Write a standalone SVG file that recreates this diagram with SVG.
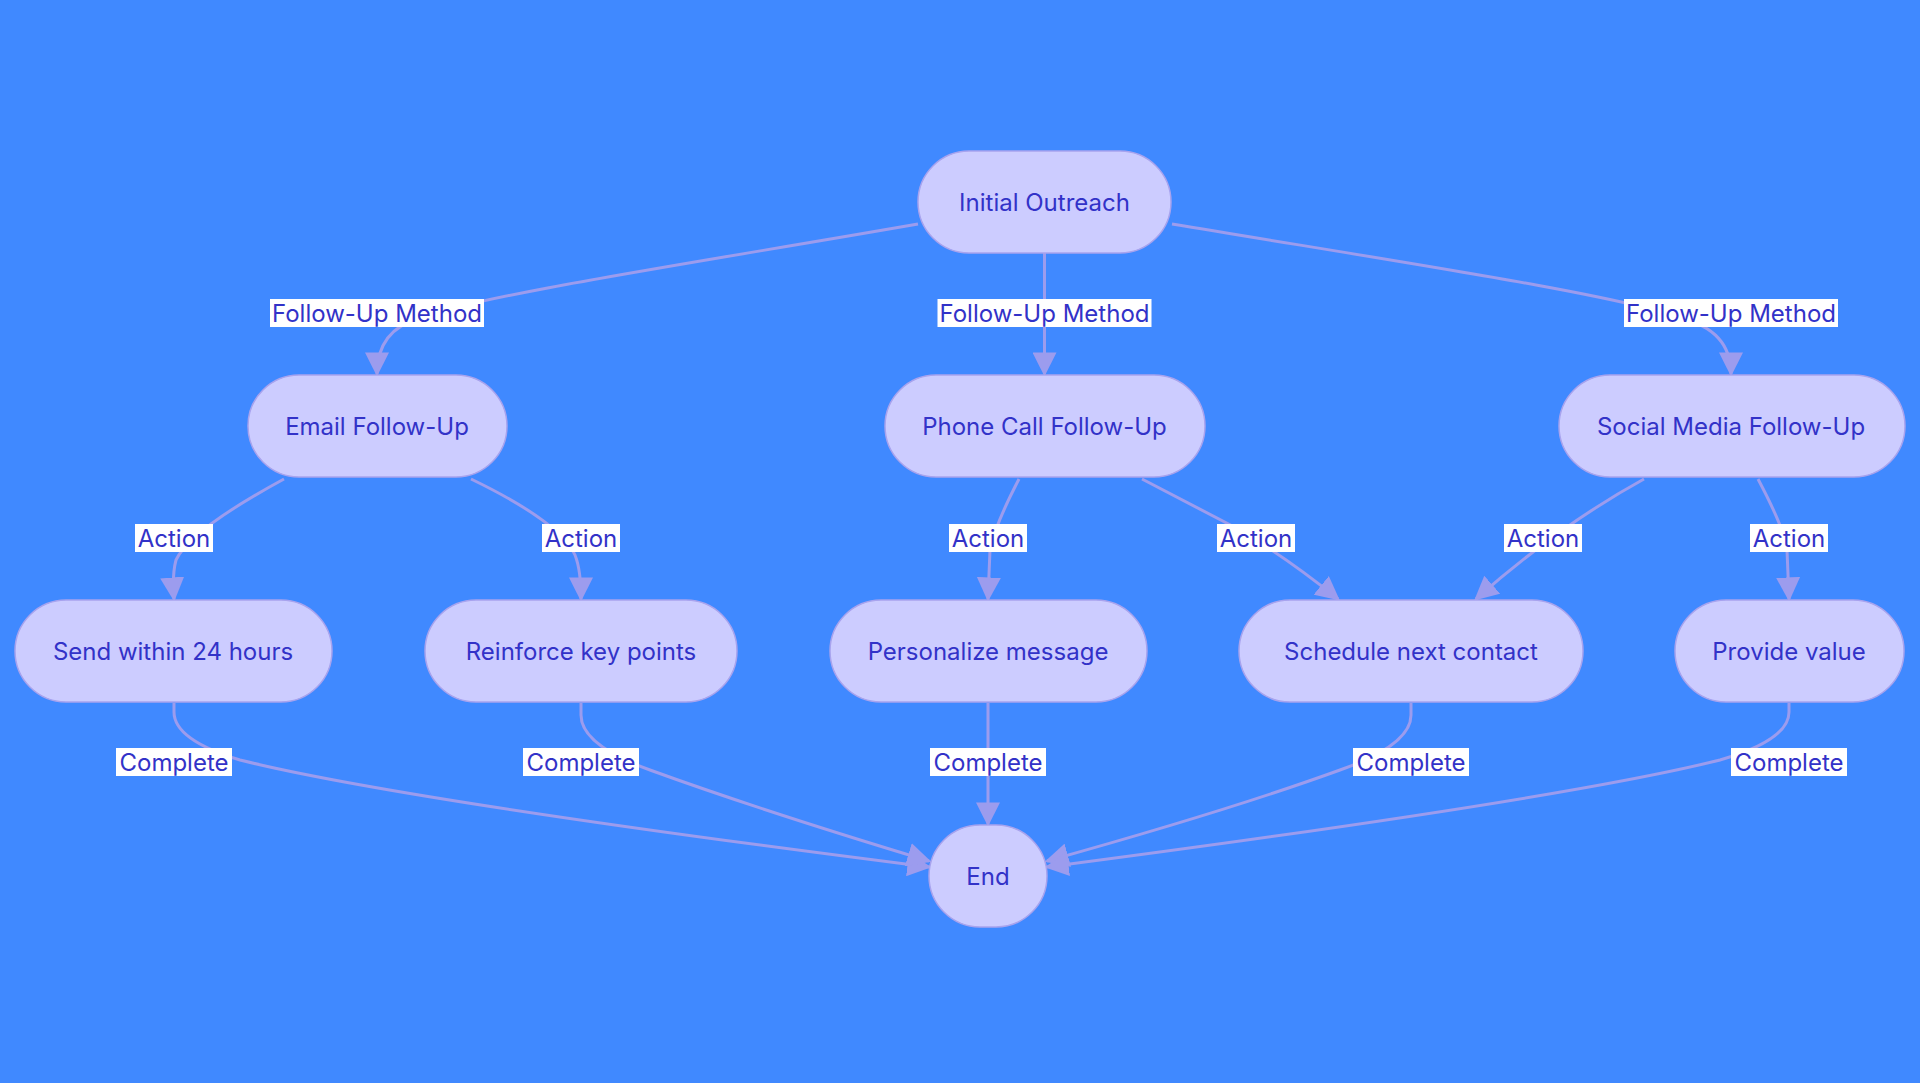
<svg xmlns="http://www.w3.org/2000/svg" width="1920" height="1083" viewBox="0 0 1920 1083">
<style>
.n rect{fill:#CCCCFF;stroke:#A8A3EE;stroke-width:1.5}
.n text{font-family:Inter,"Liberation Sans",sans-serif;font-size:24px;fill:#3232C8;text-anchor:middle;dominant-baseline:central}
.e path{fill:none;stroke:#9C9CEE;stroke-width:3;marker-end:url(#a)}
.l rect{fill:#fff}
.l text{font-family:Inter,"Liberation Sans",sans-serif;font-size:24px;fill:#3232C8;text-anchor:middle;dominant-baseline:central}
</style>
<defs><marker id="a" viewBox="0 0 10 10" refX="9" refY="5" markerWidth="8" markerHeight="8" markerUnits="userSpaceOnUse" orient="auto"><path d="M0,0L10,5L0,10z" fill="#9C9CEE"/></marker>
<marker id="b" viewBox="0 0 10 10" refX="9" refY="5" markerWidth="8" markerHeight="8" orient="auto"><path d="M0,0L10,5L0,10z" fill="#9C9CEE"/></marker></defs>
<rect width="1920" height="1083" fill="#4089FF"/>
<g class="e" id="edges">
<path d="M918,224 C700,262 480,295 420,318 Q377,330 377,374" style="marker-end:url(#b)"/>
<path d="M1044.5,253 L1044.5,374" style="marker-end:url(#b)"/>
<path d="M1172,224 C1400,262 1620,295 1680,318 Q1731,330 1731,374" style="marker-end:url(#b)"/>
<path d="M284,479 Q190,530 176,560 Q172,575 174,599" style="marker-end:url(#b)"/>
<path d="M471,479 Q560,522 575,555 Q581,570 581,599" style="marker-end:url(#b)"/>
<path d="M1019,479 Q995,525 990,550 L988,599" style="marker-end:url(#b)"/>
<path d="M1142,479 L1240,530 Q1290,560 1338,599" style="marker-end:url(#b)"/>
<path d="M1644,479 Q1560,525 1476,599" style="marker-end:url(#b)"/>
<path d="M1758,479 Q1785,530 1787,550 L1789,599" style="marker-end:url(#b)"/>
<path d="M174,703 L174,712 Q174,740 240,760 Q400,800 929,867" style="marker-end:url(#b)"/>
<path d="M581,703 L581,715 Q581,745 650,770 Q760,810 929,861" style="marker-end:url(#b)"/>
<path d="M988,703 L988,824" style="marker-end:url(#b)"/>
<path d="M1411,703 L1411,715 Q1411,745 1340,770 Q1230,810 1047,861" style="marker-end:url(#b)"/>
<path d="M1789,703 L1789,712 Q1789,740 1720,760 Q1560,800 1047,867" style="marker-end:url(#b)"/>
</g>
<g class="l" id="labels">
<rect x="270" y="299" width="214" height="28"/><text x="377" y="313">Follow-Up Method</text>
<rect x="937.5" y="299" width="214" height="28"/><text x="1044.5" y="313">Follow-Up Method</text>
<rect x="1624" y="299" width="214" height="28"/><text x="1731" y="313">Follow-Up Method</text>
<rect x="135" y="524" width="78" height="28"/><text x="174" y="538">Action</text>
<rect x="542" y="524" width="78" height="28"/><text x="581" y="538">Action</text>
<rect x="949" y="524" width="78" height="28"/><text x="988" y="538">Action</text>
<rect x="1217" y="524" width="78" height="28"/><text x="1256" y="538">Action</text>
<rect x="1504" y="524" width="78" height="28"/><text x="1543" y="538">Action</text>
<rect x="1750" y="524" width="78" height="28"/><text x="1789" y="538">Action</text>
<rect x="116" y="748" width="116" height="28"/><text x="174" y="762">Complete</text>
<rect x="523" y="748" width="116" height="28"/><text x="581" y="762">Complete</text>
<rect x="930" y="748" width="116" height="28"/><text x="988" y="762">Complete</text>
<rect x="1353" y="748" width="116" height="28"/><text x="1411" y="762">Complete</text>
<rect x="1731" y="748" width="116" height="28"/><text x="1789" y="762">Complete</text>
</g>
<g class="n" id="n-initial"><rect x="918" y="151" width="253" height="102" rx="51"/><text x="1044.5" y="202">Initial Outreach</text></g>
<g class="n" id="n-email"><rect x="248" y="375" width="259" height="102" rx="51"/><text x="377" y="426">Email Follow-Up</text></g>
<g class="n" id="n-phone"><rect x="885" y="375" width="320" height="102" rx="51"/><text x="1044.5" y="426">Phone Call Follow-Up</text></g>
<g class="n" id="n-social"><rect x="1559" y="375" width="346" height="102" rx="51"/><text x="1731" y="426">Social Media Follow-Up</text></g>
<g class="n" id="n-send"><rect x="15" y="600" width="317" height="102" rx="51"/><text x="173" y="651">Send within 24 hours</text></g>
<g class="n" id="n-reinforce"><rect x="425" y="600" width="312" height="102" rx="51"/><text x="581" y="651">Reinforce key points</text></g>
<g class="n" id="n-personalize"><rect x="830" y="600" width="317" height="102" rx="51"/><text x="988" y="651">Personalize message</text></g>
<g class="n" id="n-schedule"><rect x="1239" y="600" width="344" height="102" rx="51"/><text x="1411" y="651">Schedule next contact</text></g>
<g class="n" id="n-provide"><rect x="1675" y="600" width="229" height="102" rx="51"/><text x="1789" y="651">Provide value</text></g>
<g class="n" id="n-end"><rect x="929" y="825" width="118" height="102" rx="51"/><text x="988" y="876">End</text></g>
</svg>
